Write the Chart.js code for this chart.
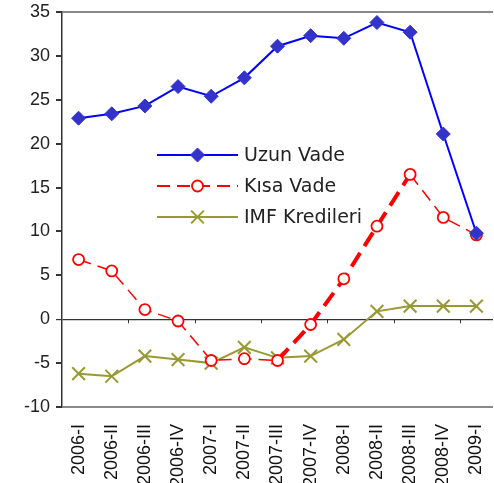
<!DOCTYPE html>
<html>
<head>
<meta charset="utf-8">
<script src="https://cdn.jsdelivr.net/npm/chart.js@4.4.1/dist/chart.umd.min.js"></script>
<style>
  html, body { margin: 0; padding: 0; background: #fff; overflow: hidden; }
  #wrap { width: 504px; height: 483px; }
</style>
</head>
<body>
<div id="wrap"><canvas id="chart"></canvas></div>
<script>
const categories = ['2006-I', '2006-II', '2006-III', '2006-IV', '2007-I', '2007-II', '2007-III',
    '2007-IV', '2008-I', '2008-II', '2008-III', '2008-IV', '2009-I'];
const uzunVade = [22.9, 23.4, 24.3, 26.5, 25.4, 27.5, 31.1, 32.3, 32.0, 33.8, 32.7, 21.1, 9.8];
const kisaVade = [6.8, 5.5, 1.1, -0.2, -4.7, -4.5, -4.7, -0.6, 4.6, 10.6, 16.5, 11.6, 9.6];
const imfKredileri = [-6.2, -6.5, -4.2, -4.6, -5.0, -3.2, -4.4, -4.2, -2.3, 0.9, 1.5, 1.5, 1.5];
const yTicks = [-10, -5, 0, 5, 10, 15, 20, 25, 30, 35];

const SANS = '"Liberation Sans", Arial, sans-serif';

// legende dans la zone du graphique
const insideLegend = {
    id: 'insideLegend',
    afterDatasetsDraw(chart) {
        const ctx = chart.ctx;
        const x0 = 157, x1 = 238, rows = [155, 186, 217];
        chart.data.datasets.forEach((ds, i) => {
            const y = rows[i];
            ctx.save();
            ctx.strokeStyle = ds.borderColor;
            ctx.lineWidth = ds.legendWidth;
            ctx.setLineDash(ds.legendDash || []);
            ctx.beginPath();
            ctx.moveTo(x0, y);
            ctx.lineTo(x1, y);
            ctx.stroke();
            ctx.setLineDash([]);
            ctx.fillStyle = ds.pointBackgroundColor;
            ctx.strokeStyle = ds.pointBorderColor;
            ctx.lineWidth = ds.pointBorderWidth;
            Chart.helpers.drawPoint(ctx, {
                pointStyle: ds.pointStyle,
                radius: ds.pointRadius,
                borderWidth: ds.pointBorderWidth
            }, (x0 + x1) / 2, y);
            ctx.fillStyle = '#222';
            ctx.font = '19px "DejaVu Sans", sans-serif';
            ctx.textBaseline = 'middle';
            ctx.fillText(ds.label, 244, y + 1);
            ctx.restore();
        });
    }
};

// petits traits sur l'axe zero
const zeroTicks = {
    id: 'zeroTicks',
    beforeDatasetsDraw(chart) {
        const ctx = chart.ctx, x = chart.scales.x, y0 = chart.scales.y.getPixelForValue(0);
        ctx.save();
        ctx.strokeStyle = '#333';
        ctx.lineWidth = 1;
        for (let i = 2; i < categories.length; i += 2) {
            const px = Math.round((x.getPixelForValue(i - 1) + x.getPixelForValue(i)) / 2) + 0.5;
            ctx.beginPath();
            ctx.moveTo(px, y0);
            ctx.lineTo(px, y0 + 4);
            ctx.stroke();
        }
        ctx.restore();
    }
};

new Chart(document.getElementById('chart'), {
    type: 'line',
    data: {
        labels: categories,
        datasets: [{
            label: 'Uzun Vade',
            data: uzunVade,
            borderColor: '#0000ff',
            borderWidth: 2,
            legendWidth: 2,
            pointStyle: 'rectRot',
            pointRadius: 7,
            pointBackgroundColor: '#3333cc',
            pointBorderColor: '#3333cc',
            pointBorderWidth: 1,
            tension: 0
        }, {
            label: 'Kısa Vade',
            data: kisaVade,
            borderColor: '#ff0000',
            borderWidth: 1.5,
            legendWidth: 2,
            legendDash: [13, 7],
            borderDash: [13, 7],
            segment: {
                borderWidth: c => (c.p0DataIndex >= 6 && c.p1DataIndex <= 10) ? 4 : 1.5,
                borderDash: c => (c.p0DataIndex >= 6 && c.p1DataIndex <= 10) ? [16, 8] : [13, 7]
            },
            pointStyle: 'circle',
            pointRadius: 5.5,
            pointBackgroundColor: '#ffffff',
            pointBorderColor: '#ff0000',
            pointBorderWidth: 1.8,
            tension: 0
        }, {
            label: 'IMF Kredileri',
            data: imfKredileri,
            borderColor: '#999933',
            borderWidth: 2,
            legendWidth: 2,
            pointStyle: 'crossRot',
            pointRadius: 9,
            pointBorderColor: '#999933',
            pointBackgroundColor: '#999933',
            pointBorderWidth: 2,
            tension: 0
        }]
    },
    options: {
        responsive: true,
        maintainAspectRatio: false,
        animation: false,
        events: [],
        layout: { padding: { top: 12, right: 1, left: 0, bottom: 0 } },
        plugins: { legend: { display: false }, tooltip: { enabled: false } },
        scales: {
            x: {
                offset: true,
                grid: { display: false },
                border: { display: false },
                afterFit: s => { s.height = 76; s.paddingLeft = 0; s.paddingRight = 0; },
                ticks: {
                    minRotation: 90,
                    maxRotation: 90,
                    autoSkip: false,
                    padding: 9,
                    color: '#111',
                    font: { family: SANS, size: 18 }
                }
            },
            y: {
                min: -10,
                max: 35,
                afterFit: s => { s.width = 62; s.paddingTop = 0; s.paddingBottom = 0; },
                afterBuildTicks: s => { s.ticks = yTicks.map(v => ({ value: v })); },
                border: { display: true, color: '#333', width: 1.5 },
                grid: {
                    drawTicks: true,
                    tickLength: 6,
                    tickColor: '#333',
                    color: c => c.tick.value === 0 ? '#333' : (c.tick.value === 35 || c.tick.value === -10) ? '#888' : 'rgba(0,0,0,0)',
                    lineWidth: c => c.tick.value === 0 ? 1.2 : 2
                },
                ticks: {
                    padding: 6,
                    color: '#222',
                    font: { family: SANS, size: 18 }
                }
            }
        }
    },
    plugins: [zeroTicks, insideLegend]
});
</script>
</body>
</html>
